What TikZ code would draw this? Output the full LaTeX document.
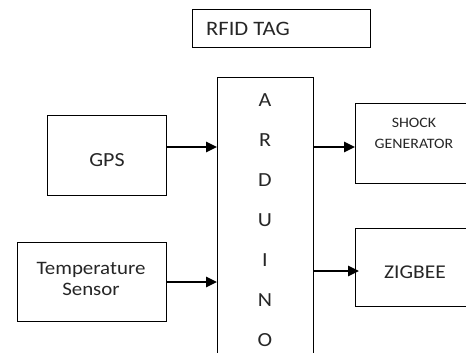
\documentclass[tikz,border=0pt]{standalone}
\usepackage{fontspec}
\setmainfont{Carlito}[FakeStretch=1.1]
\usetikzlibrary{arrows.meta}
\tikzset{
  blk/.style={draw=black, line width=1.3pt, inner sep=0pt},
  lbl/.style={inner sep=0pt, text=black!85, font=\fontsize{20}{21}\selectfont, align=center},
  arr/.style={line width=2.6pt, -{Triangle[length=11pt,width=10pt]}}
}
\begin{document}
\begin{tikzpicture}[x=1pt,y=-1pt]
\useasboundingbox (0,0) rectangle (466,353);
\clip (0,0) rectangle (466,353);
% boxes
\node[blk, minimum width=178pt, minimum height=38pt, anchor=north west] (rfid) at (192,9) {};
\node[blk, minimum width=96pt, minimum height=320pt, anchor=north west] (ard) at (217,77) {};
\node[blk, minimum width=119pt, minimum height=80pt, anchor=north west] (gps) at (47,115) {};
\node[blk, minimum width=149pt, minimum height=79pt, anchor=north west] (temp) at (17,242) {};
\node[blk, minimum width=160pt, minimum height=80pt, anchor=north west] (shock) at (355,103) {};
\node[blk, minimum width=160pt, minimum height=78pt, anchor=north west] (zig) at (355,228) {};
% texts
\node[lbl, anchor=west, font=\fontsize{20.5}{21}\selectfont] (trfid) at (206,29) {RFID TAG};
\node[lbl] (tgps) at (107,160) {GPS};
\node[lbl, font=\fontsize{19}{21}\selectfont] (ttemp) at (91,279) {Temperature\\Sensor};
\node[lbl, font=\fontsize{14.4}{21}\selectfont] (tshock) at (414,133) {SHOCK\\GENERATOR};
\node[lbl, font=\fontsize{19.5}{21}\selectfont] (tzig) at (415,272) {ZIGBEE};
\foreach \l [count=\i] in {A,R,D,U,I,N,O}
  \node[lbl] (ard\i) at (265,{100+40*(\i-1)}) {\l};
% connectors
\coordinate (ya) at (0,147);
\coordinate (yb) at (0,282);
\coordinate (yc) at (0,271);
\draw[arr] (gps.east |- ya) -- (ard.west |- ya);
\draw[arr] (temp.east |- yb) -- (ard.west |- yb);
\draw[arr] (ard.east |- ya) -- (shock.west |- ya);
\draw[arr] (ard.east |- yc) -- ([xshift=4pt]zig.west |- yc);
\end{tikzpicture}
\end{document}
